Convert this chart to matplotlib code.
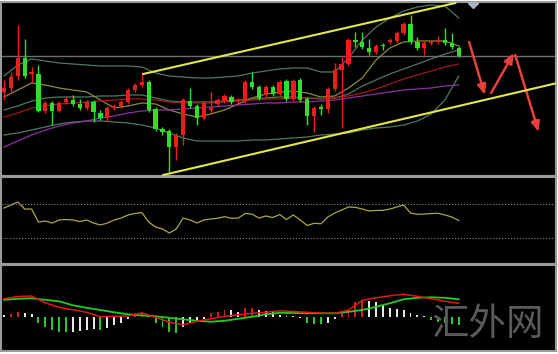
import numpy as np
import matplotlib
matplotlib.use('Agg')
import matplotlib.pyplot as plt

plt.rcParams['font.family'] = ['Noto Sans CJK SC', 'DejaVu Sans']

# ── K线 (读图得到的屏幕纵坐标, 数值越小价格越高) ──
body_top = [88, 77, 58, 58, 72, 74, 103, 103, 103, 99,
            100, 104, 102, 102, 113, 108, 106, 102, 90, 85,
            82, 82, 109, 129, 131, 135, 100, 101, 106, 103,
            108, 100, 96, 97, 100, 82, 82, 87, 87, 87,
            82, 81, 81, 80, 99, 108, 107, 89, 70, 64,
            40, 40, 42, 48, 46, 45, 40, 33, 24, 24,
            42, 43, 42, 40, 40, 43, 48]
body_bot = [92, 88, 76, 76, 74, 111, 111, 111, 111, 102,
            104, 108, 108, 112, 118, 118, 108, 106, 102, 90,
            85, 110, 129, 132, 147, 147, 135, 106, 118, 118,
            110, 104, 101, 102, 101, 101, 87, 98, 95, 94,
            94, 99, 99, 100, 116, 116, 109, 109, 89, 70,
            64, 42, 47, 52, 52, 46, 42, 41, 33, 42,
            48, 48, 43, 42, 43, 47, 56]
wick_hi = [80, 72, 25, 39, 67, 65, 101, 101, 101, 97,
           95, 99, 100, 100, 110, 106, 104, 100, 88, 83,
           73, 80, 107, 127, 129, 133, 98, 88, 104, 101,
           92, 98, 94, 95, 98, 80, 72, 85, 85, 85,
           80, 79, 79, 78, 97, 106, 104, 87, 63, 57,
           38, 32, 32, 39, 44, 43, 38, 31, 22, 15,
           37, 41, 40, 36, 28, 33, 46]
wick_lo = [100, 92, 80, 78, 82, 112, 113, 125, 112, 104,
           106, 110, 110, 122, 120, 121, 110, 108, 104, 92,
           87, 112, 131, 135, 172, 160, 145, 108, 125, 120,
           113, 106, 103, 104, 103, 103, 89, 100, 97, 96,
           96, 101, 101, 102, 125, 132, 115, 113, 91, 128,
           66, 47, 49, 55, 54, 50, 44, 43, 35, 44,
           50, 55, 45, 44, 45, 49, 57]
is_up = [1, 1, 1, 0, 1, 0, 1, 0, 1, 1,
         0, 0, 1, 0, 0, 1, 1, 1, 1, 1,
         1, 0, 0, 0, 0, 1, 1, 0, 0, 1,
         1, 1, 1, 0, 1, 1, 0, 0, 1, 0,
         1, 0, 1, 0, 0, 1, 0, 1, 1, 1,
         1, 0, 0, 0, 1, 0, 1, 1, 1, 0,
         0, 1, 1, 1, 0, 0, 0]

# 均线/布林带, 每隔两根K线取一个点
line_idx = np.arange(0, 67, 2)
bb_up = [76, 65, 59, 61, 63, 64, 65, 66, 66, 66, 67, 73, 76, 77, 78, 78, 77,
         76, 73, 71, 69, 68, 68, 72, 72, 58, 40, 27, 18, 11, 7, 5, 6, 18]
bb_mid = [110, 106, 101, 98, 97, 97, 97, 96, 96, 95, 95, 98, 101, 102, 102, 102, 101,
          100, 99, 98, 97, 97, 98, 99, 98, 94, 86, 80, 74, 69, 64, 59, 54, 50]
bb_low = [135, 133, 130, 127, 124, 122, 121, 121, 122, 123, 125, 128, 133, 138, 141, 141, 141,
          141, 140, 140, 139, 138, 137, 135, 134, 133, 130, 128, 127, 125, 121, 114, 100, 76]
ma_olive = [97, 90, 83, 85, 88, 90, 92, 100, 108, 106, 103, 104, 110, 114, 117, 114, 110,
            104, 98, 94, 92, 91, 93, 97, 96, 88, 78, 60, 48, 42, 41, 41, 41, 46]
ma_red = [117, 113, 108, 106, 104, 103, 102, 101, 100, 99, 99, 100, 102, 103, 103, 103, 102,
          101, 100, 99, 99, 98, 98, 98, 98, 96, 93, 89, 84, 79, 75, 71, 67, 64]
ma_purple = [147, 141, 135, 130, 126, 123, 121, 118, 116, 113, 111, 110, 110, 109, 108, 107, 106,
             105, 104, 103, 103, 102, 102, 101, 100, 98, 96, 94, 92, 90, 89, 88, 86, 85]

level = 56
chan_up_x, chan_up_y = [20.2, 65.5], [74, 3]
chan_lo_x, chan_lo_y = [23.1, 80.3], [175, 83]
arr_x0 = [67.5, 70.7, 74.2]
arr_y0 = [42, 93, 55]
arr_x1 = [69.8, 74.0, 77.6]
arr_y1 = [95, 53, 132]

# ── RSI ──
rsi = [65.3, 68.8, 72.4, 64.1, 64.1, 48.8, 50.0, 47.6, 51.2, 51.8,
       51.2, 49.4, 51.2, 47.6, 45.3, 47.6, 51.2, 53.5, 57.1, 58.8,
       60.0, 48.8, 42.9, 40.6, 35.9, 40.6, 53.5, 51.2, 47.6, 51.2,
       52.4, 53.2, 55.1, 53.2, 53.5, 58.8, 58.2, 53.5, 55.9, 54.1,
       57.6, 51.8, 57.1, 51.2, 44.7, 47.3, 46.8, 54.7, 59.4, 62.9,
       66.5, 66.1, 64.1, 61.8, 62.4, 62.6, 64.1, 66.5, 68.8, 59.4,
       57.9, 58.2, 58.8, 59.1, 57.1, 54.7, 50.6]

# ── MACD ──
hist = [2.3, 3, 5.7, 4, 3.3, -5.3, -9.3, -12.7, -14.3, -14.3,
        -14.3, -13.7, -12.7, -12, -12.7, -10.3, -7.7, -6, -2, 4,
        4.7, 1.5, -5.3, -9.3, -14.3, -15.3, -10, -6, -4.3, -2,
        4, 5.7, 7.3, 7.3, 5.7, 9, 9, 7.3, 6.3, 5.7,
        2.3, 1.5, 1, -1, -6, -7, -7, -6, -2, 4,
        7, 15, 17, 16, 15, 12, 9, 8, 7, 4,
        2, 1, -3, -5, -6, -7, -8]
hist_c = list('wrrwwggggg' 'wwwwgwwwwr' 'rwggggwwww' 'rrrwwrrwww'
              'wwwwgggwwr' 'rrrwwwwwww' 'wwggggg')
macd = [18.5, 20.8, 21.3, 14.5, 10, 7.5, 5, 0.6, 1, 1.3, 4.5, 0, -5, -7.5, -4, -1.5, 1,
        2.5, 4, 5, 6.5, 5.8, 5, 4.2, 4, 7.3, 17, 19.5, 21.5, 23, 21, 18.5, 16, 14]
signal = [17.5, 18.5, 19, 17.5, 16, 12, 9.5, 7.3, 5, 3, 1.8, 1, -0.5, -2, -3.5, -4.4, -3.5,
          -1.5, 0.5, 3, 4.5, 4.3, 4, 4, 4, 5.5, 7.3, 10.5, 14, 18, 19.5, 20, 19.5, 18]

RED, GREEN = '#f01c1c', '#2ce02c'
BB = '#4e7a5e'

fig = plt.figure(figsize=(5.58, 3.54), dpi=100, facecolor='white')
L, W = 1/558, 555/558
ax1 = fig.add_axes([L, 1-176/354, W, 174/354])
ax2 = fig.add_axes([L, 1-264/354, W, 87/354])
ax3 = fig.add_axes([L, 1-351/354, W, 86/354])
for ax in (ax1, ax2, ax3):
    ax.set_facecolor('black')
    ax.set_xlim(-3/6.89, 552/6.89)
    ax.set_xticks([]); ax.set_yticks([])
    for s in ax.spines.values():
        s.set_color('#9a9a9a'); s.set_linewidth(1.5)

# 主图
x = np.arange(len(body_top))
cols = [RED if u else GREEN for u in is_up]
ax1.axhline(level, color='#6e6e6e', lw=1, zorder=1)
for vals, c in [(bb_up, BB), (bb_mid, BB), (bb_low, BB), (ma_olive, '#8c8c38'),
                (ma_red, '#a01a1a'), (ma_purple, '#9030a0')]:
    ax1.plot(line_idx, vals, color=c, lw=0.9, zorder=2)
ax1.vlines(x, wick_hi, wick_lo, colors=cols, lw=1, zorder=3)
h = np.maximum(np.array(body_bot) - np.array(body_top), 1)
ax1.bar(x, h, bottom=body_top, width=0.62, color=cols, lw=0, zorder=3)
ax1.plot(chan_up_x, chan_up_y, color='#e6e64a', lw=1.5, zorder=4)
ax1.plot(chan_lo_x, chan_lo_y, color='#e6e64a', lw=1.5, zorder=4)
for x0, y0, x1, y1 in zip(arr_x0, arr_y0, arr_x1, arr_y1):
    ax1.annotate('', xy=(x1, y1), xytext=(x0, y0),
                 arrowprops=dict(arrowstyle='-|>,head_length=0.6,head_width=0.25',
                                 color='#e8403a', lw=1.8, shrinkA=0, shrinkB=0))
ax1.plot(68.1, 3, marker='D', color='#aab4c8', ms=5, zorder=5)
ax1.set_ylim(176, 2)

# RSI
ax2.plot(x, rsi, color='#a8a848', lw=0.9)
ax2.axhline(70, color='#8a8a8a', lw=0.8, ls=':')
ax2.axhline(30, color='#8a8a8a', lw=0.8, ls=':')
ax2.set_ylim(-0.6, 101.8)

# MACD
cmap = {'r': '#e01818', 'g': '#28c828', 'w': '#e8e8e8'}
ax3.bar(x, hist, width=0.28, color=[cmap[c] for c in hist_c], lw=0)
ax3.plot(line_idx, signal, color='#22cc22', lw=1.3)
ax3.plot(line_idx, macd, color='#e01818', lw=1.1)
ax3.set_ylim(-33.7, 52.3)

fig.text(488/558, 1-325/354, '汇外网', fontsize=27, color='#5a5a5a',
         ha='center', va='center')

fig.savefig('out.png', dpi=100, facecolor='white')
